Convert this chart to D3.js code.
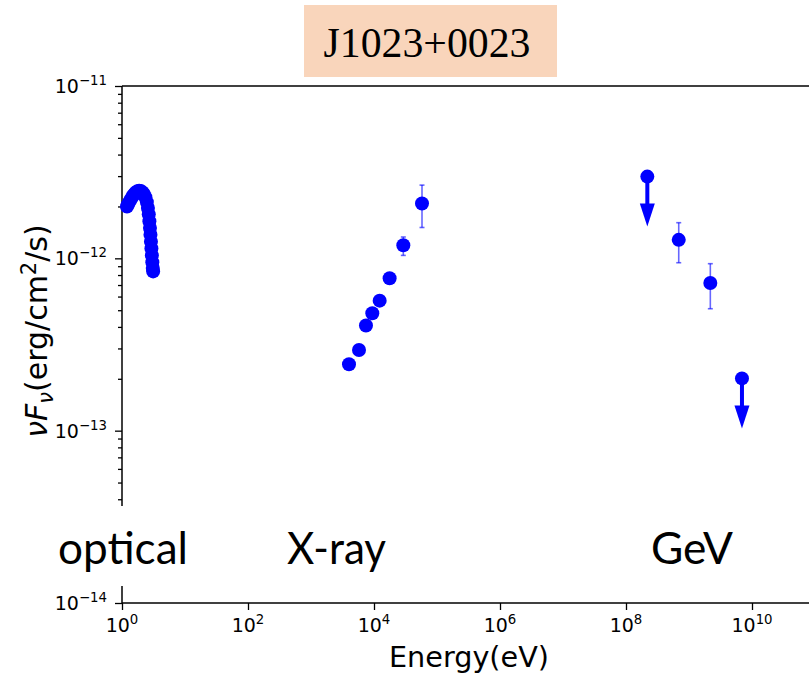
<!DOCTYPE html>
<html>
<head>
<meta charset="utf-8">
<script src="https://cdn.jsdelivr.net/npm/d3@7"></script>
<style>
  html, body { margin: 0; padding: 0; background: #fff; }
  svg { display: block; }
</style>
</head>
<body>
<script>
// ---------------- DATA ----------------
const title = "J1023+0023";
// optical SED points: [energy eV, nuFnu erg/cm2/s]
const opticalE = [1.20, 1.25, 1.32, 1.40, 1.48, 1.57, 1.66, 1.76, 1.87, 1.98, 2.10, 2.22, 2.35, 2.48, 2.58, 2.66, 2.72, 2.78, 2.83, 2.88, 2.93, 2.98, 3.03, 3.08, 3.12];
const opticalF = [2.00e-12, 2.06e-12, 2.14e-12, 2.22e-12, 2.30e-12, 2.36e-12, 2.41e-12, 2.45e-12, 2.47e-12, 2.46e-12, 2.42e-12, 2.36e-12, 2.26e-12, 2.12e-12, 1.96e-12, 1.80e-12, 1.64e-12, 1.50e-12, 1.37e-12, 1.25e-12, 1.14e-12, 1.04e-12, 0.95e-12, 0.88e-12, 0.84e-12];
// X-ray points
const xrayE = [4010, 5780, 7460, 9400, 12300, 17700, 29200, 57800];
const xrayF = [2.43e-13, 2.94e-13, 4.08e-13, 4.80e-13, 5.68e-13, 7.66e-13, 1.19e-12, 2.08e-12];
const xrayLo = [null, null, null, null, null, null, 1.04e-12, 1.51e-12];
const xrayHi = [null, null, null, null, null, null, 1.33e-12, 2.66e-12];
// GeV detections
const gevE = [6.87e8, 2.18e9];
const gevF = [1.28e-12, 7.19e-13];
const gevLo = [9.43e-13, 5.10e-13];
const gevHi = [1.61e-12, 9.31e-13];
// GeV upper limits
const ulE = [2.18e8, 6.93e9];
const ulF = [2.98e-12, 2.01e-13];
// axes
const xTicks = [1, 1e2, 1e4, 1e6, 1e8, 1e10];
const xTickExp = ["0", "2", "4", "6", "8", "10"];
const yTicks = [1e-14, 1e-13, 1e-12, 1e-11];
const yTickExp = ["\u221214", "\u221213", "\u221212", "\u221211"];
const bandLabels = ["optical", "X-ray", "GeV"];

// ---------------- LAYOUT ----------------
const W = 809, H = 675;
const pL = 122, pT = 86, pB = 603, pR = 815;
const blue = "#0000ff";

const svg = d3.select("body").append("svg").attr("width", W).attr("height", H);
svg.append("rect").attr("width", W).attr("height", H).attr("fill", "#fff");

const x = d3.scaleLog().domain([1, 1e11]).range([pL, pR]);
const y = d3.scaleLog().domain([1e-14, 1e-11]).range([pB, pT]);

// title box
svg.append("rect").attr("x", 304).attr("y", 5).attr("width", 253).attr("height", 72).attr("fill", "#F9D5BB");
svg.append("text").attr("x", 427).attr("y", 57).attr("text-anchor", "middle")
  .attr("font-family", "Liberation Serif, Times New Roman, serif").attr("font-size", 43)
  .attr("textLength", 207).attr("lengthAdjust", "spacingAndGlyphs")
  .attr("fill", "#000").text(title);

// axes
const axisG = svg.append("g");
const xAxis = d3.axisBottom(x).tickValues(xTicks).tickSize(7).tickFormat("");
const gx = axisG.append("g").attr("transform", `translate(0,${pB})`).call(xAxis);
const yMinor = [];
for (let e = -14; e < -11; e++) for (let m = 2; m <= 9; m++) yMinor.push(m * Math.pow(10, e));
const gyMinor = axisG.append("g").attr("transform", `translate(${pL},0)`)
  .call(d3.axisLeft(y).tickValues(yMinor).tickSize(4).tickFormat(""));
const gy = axisG.append("g").attr("transform", `translate(${pL},0)`)
  .call(d3.axisLeft(y).tickValues(yTicks).tickSize(7).tickFormat(""));
[gx, gy, gyMinor].forEach(g => {
  g.select(".domain").remove();
  g.selectAll(".tick line").attr("stroke", "#000").attr("stroke-width", 1.3);
});
// spines
axisG.append("line").attr("x1", pL).attr("x2", pR).attr("y1", pT).attr("y2", pT).attr("stroke", "#000").attr("stroke-width", 1.5);
axisG.append("line").attr("x1", pL).attr("x2", pR).attr("y1", pB).attr("y2", pB).attr("stroke", "#000").attr("stroke-width", 1.5);
axisG.append("line").attr("x1", pL).attr("x2", pL).attr("y1", pT).attr("y2", pB).attr("stroke", "#000").attr("stroke-width", 1.5);

// tick labels
const tf = "DejaVu Sans, sans-serif";
xTicks.forEach((v, i) => {
  const t = svg.append("text").attr("x", x(v)).attr("y", pB + 29).attr("text-anchor", "middle")
    .attr("font-family", tf).attr("font-size", 19).attr("fill", "#000");
  t.append("tspan").text("10");
  t.append("tspan").attr("font-size", 13.3).attr("dy", -8).text(xTickExp[i]);
});
yTicks.forEach((v, i) => {
  const t = svg.append("text").attr("x", pL - 15).attr("y", y(v) + 7).attr("text-anchor", "end")
    .attr("font-family", tf).attr("font-size", 19).attr("fill", "#000");
  t.append("tspan").text("10");
  t.append("tspan").attr("font-size", 13.3).attr("dy", -8).text(yTickExp[i]);
});

// axis labels
svg.append("text").attr("x", 469).attr("y", 667).attr("text-anchor", "middle")
  .attr("font-family", tf).attr("font-size", 28).attr("textLength", 160).attr("lengthAdjust", "spacingAndGlyphs")
  .attr("fill", "#000").text("Energy(eV)");
const yl = svg.append("text").attr("transform", "translate(47,331) rotate(-90)").attr("text-anchor", "middle")
  .attr("font-family", tf).attr("font-size", 30).attr("fill", "#000");
yl.append("tspan").attr("font-style", "italic").text("\u03bdF");
yl.append("tspan").attr("font-style", "italic").attr("font-size", 21).attr("dy", 6).text("\u03bd");
yl.append("tspan").attr("dy", -6).text("(erg/cm");
yl.append("tspan").attr("font-size", 21).attr("dy", -11).text("2");
yl.append("tspan").attr("dy", 11).text("/s)");

// white band overlay with labels
svg.append("rect").attr("x", 0).attr("y", 506).attr("width", W).attr("height", 80).attr("fill", "#fff");
const bandX = [58, 287, 651], bandW = [130, 99, 82];
bandLabels.forEach((s, i) => {
  svg.append("text").attr("x", bandX[i]).attr("y", 564)
    .attr("font-family", "Lato, Open Sans, sans-serif").attr("font-size", 44)
    .attr("textLength", bandW[i]).attr("lengthAdjust", "spacingAndGlyphs")
    .attr("fill", "#000").text(s);
});

// data
const plot = svg.append("g");
// error bars
const errPts = xrayE.map((e, i) => ({e, f: xrayF[i], lo: xrayLo[i], hi: xrayHi[i]}))
  .concat(gevE.map((e, i) => ({e, f: gevF[i], lo: gevLo[i], hi: gevHi[i]})))
  .filter(d => d.lo !== null);
errPts.forEach(d => {
  const g = plot.append("g").attr("stroke", blue).attr("stroke-opacity", 0.6).attr("stroke-width", 1.6);
  g.append("line").attr("x1", x(d.e)).attr("x2", x(d.e)).attr("y1", y(d.lo)).attr("y2", y(d.hi));
  g.append("line").attr("x1", x(d.e) - 2.5).attr("x2", x(d.e) + 2.5).attr("y1", y(d.lo)).attr("y2", y(d.lo));
  g.append("line").attr("x1", x(d.e) - 2.5).attr("x2", x(d.e) + 2.5).attr("y1", y(d.hi)).attr("y2", y(d.hi));
});
// upper limit arrows
ulE.forEach((e, i) => {
  const cx = x(e), cy = y(ulF[i]);
  plot.append("rect").attr("x", cx - 2).attr("y", cy).attr("width", 4).attr("height", 28).attr("fill", blue);
  plot.append("path").attr("d", `M${cx - 7.5},${cy + 27}L${cx + 7.5},${cy + 27}L${cx},${cy + 50}Z`).attr("fill", blue);
});
// points
const allPts = opticalE.map((e, i) => [e, opticalF[i]])
  .concat(xrayE.map((e, i) => [e, xrayF[i]]))
  .concat(gevE.map((e, i) => [e, gevF[i]]))
  .concat(ulE.map((e, i) => [e, ulF[i]]));
plot.selectAll("circle.pt").data(allPts).enter().append("circle").attr("class", "pt")
  .attr("cx", d => x(d[0])).attr("cy", d => y(d[1])).attr("r", 7).attr("fill", blue);
</script>
</body>
</html>
